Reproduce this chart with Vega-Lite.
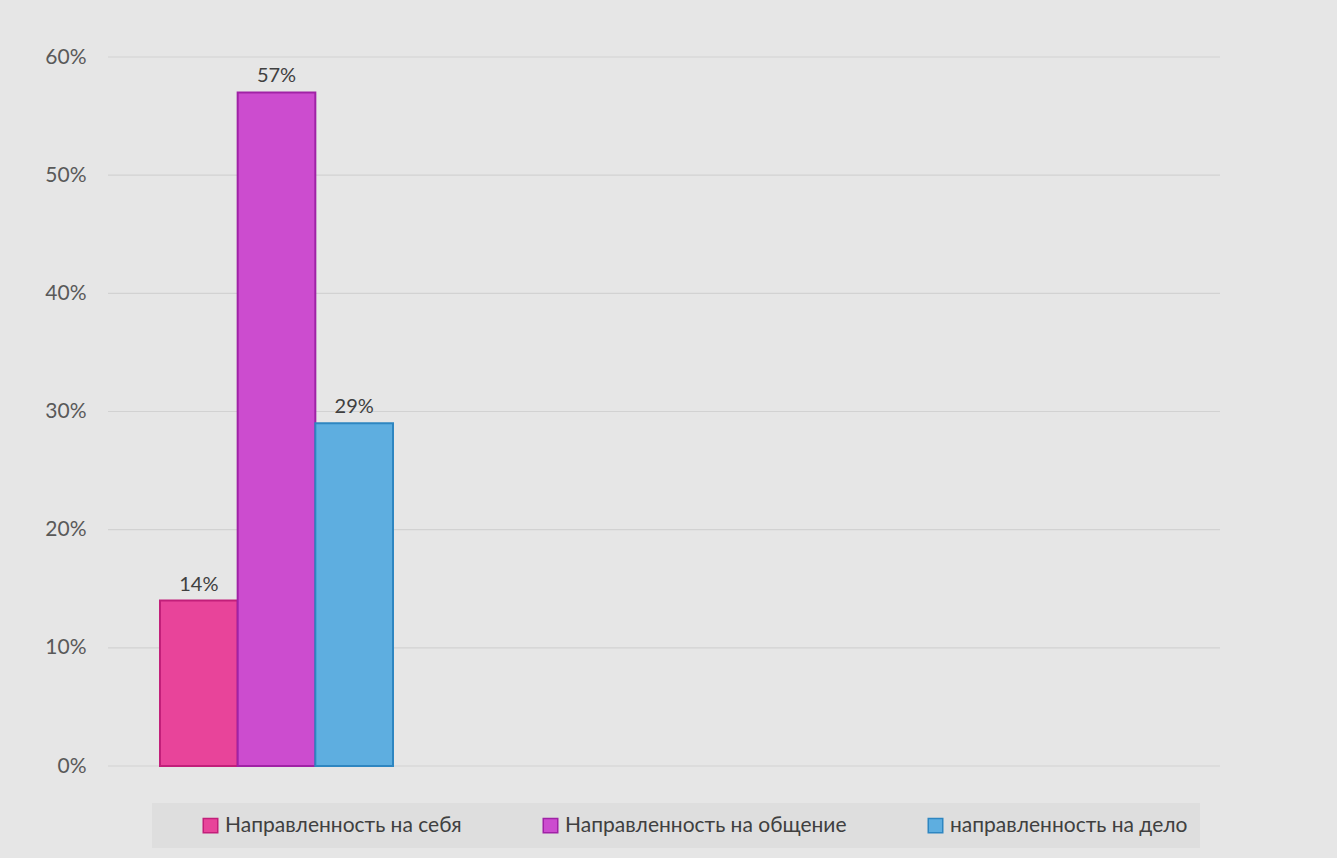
{
  "$schema": "https://vega.github.io/schema/vega-lite/v6.json",
  "width": 1112,
  "height": 709,
  "padding": {"top": 46, "left": 44, "right": 117, "bottom": 10},
  "background": "#e6e6e6",
  "config": {
    "font": "Lato, Open Sans",
    "view": {"stroke": null},
    "axis": {"labelFont": "Lato, Open Sans", "labelColor": "#595959", "labelFontSize": 21}
  },
  "datasets": {
    "bars": [
      {"series": "Направленность на себя", "value": 0.14},
      {"series": "Направленность на общение", "value": 0.57},
      {"series": "направленность на дело", "value": 0.29}
    ],
    "grid": [
      {"tick": 0}, {"tick": 0.1}, {"tick": 0.2}, {"tick": 0.3},
      {"tick": 0.4}, {"tick": 0.5}, {"tick": 0.6}
    ]
  },
  "layer": [
    {
      "data": {"name": "grid"},
      "mark": {"type": "rule", "color": "#d2d2d2", "strokeWidth": 1.2},
      "encoding": {
        "y": {
          "field": "tick",
          "type": "quantitative",
          "scale": {"domain": [0, 0.6]},
          "axis": {
            "format": "%",
            "tickCount": 7,
            "title": null,
            "domain": false,
            "ticks": false,
            "grid": false,
            "labelPadding": 22
          }
        }
      }
    },
    {
      "data": {"name": "bars"},
      "mark": {"type": "bar", "strokeWidth": 2},
      "encoding": {
        "x": {
          "field": "series",
          "type": "nominal",
          "sort": null,
          "axis": null,
          "scale": {"paddingInner": 0, "paddingOuter": 0, "range": [52, 285]}
        },
        "y": {"field": "value", "type": "quantitative"},
        "color": {
          "field": "series",
          "type": "nominal",
          "sort": null,
          "scale": {
            "domain": ["Направленность на себя", "Направленность на общение", "направленность на дело"],
            "range": ["#e8449a", "#cc4ccf", "#5eaee0"]
          },
          "legend": {
            "title": null,
            "orient": "none",
            "legendX": 44,
            "legendY": 746,
            "direction": "horizontal",
            "fillColor": "#dedede",
            "padding": 12,
            "symbolOffset": 36,
            "columnPadding": 42,
            "symbolType": "square",
            "symbolSize": 210,
            "symbolStrokeWidth": 1.5,
            "symbolOpacity": 1,
            "labelFont": "Lato, Open Sans",
            "labelFontSize": 21,
            "labelColor": "#404040",
            "labelLimit": 400
          }
        },
        "stroke": {
          "field": "series",
          "type": "nominal",
          "sort": null,
          "scale": {
            "domain": ["Направленность на себя", "Направленность на общение", "направленность на дело"],
            "range": ["#c21f7a", "#a022a6", "#2e86c1"]
          },
          "legend": null
        }
      }
    },
    {
      "data": {"name": "bars"},
      "mark": {"type": "text", "dy": -16, "fontSize": 20, "color": "#404040", "font": "Lato, Open Sans"},
      "encoding": {
        "x": {"field": "series", "type": "nominal", "sort": null},
        "y": {"field": "value", "type": "quantitative"},
        "text": {"field": "value", "type": "quantitative", "format": ".0%"}
      }
    }
  ]
}
